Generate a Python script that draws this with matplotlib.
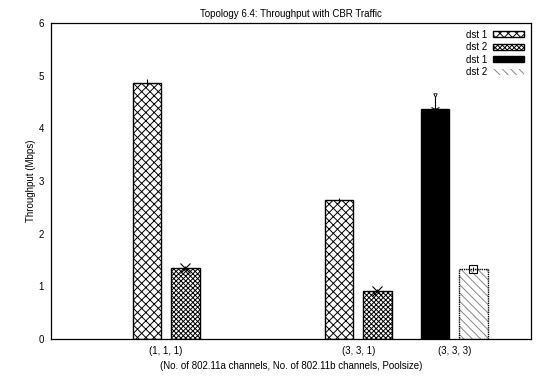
import numpy as np
from matplotlib import pyplot as plt

plt.rcParams['font.family'] = ['Liberation Sans', 'DejaVu Sans']
plt.rcParams['hatch.linewidth'] = 0.7

groups = ['(1, 1, 1)', '(3, 3, 1)', '(3, 3, 3)']
xpos = [1, 3, 4]

# first series: groups 1 and 2
a_x = [1, 3]
a_dst1 = [4.87, 2.63]
a_dst2 = [1.35, 0.92]
a_err1 = [0.07, 0.05]
a_err2 = [0.03, 0.03]

# second series: group 3
b_x = [4]
b_dst1 = [4.37]
b_dst2 = [1.33]
b_err1 = [0.27]
b_err2 = [0.04]

off = 0.2
w = 0.3

fig = plt.figure(figsize=(5.36, 3.77), dpi=100)
ax = fig.add_axes([0.0951, 0.1008, 0.8956, 0.8382])

ax.bar(np.array(a_x) - off, a_dst1, w, color='white', edgecolor='black', hatch='xxxx', lw=1, label='dst 1')
ax.bar(np.array(a_x) + off, a_dst2, w, color='white', edgecolor='black', hatch='xxxxxxx', lw=1, label='dst 2')
ax.bar(np.array(b_x) - off, b_dst1, w, color='black', edgecolor='black', lw=1, label='dst 1')
ax.bar(np.array(b_x) + off, b_dst2, w, color='white', edgecolor='#888888', hatch='\\\\\\\\', lw=0, label='dst 2')
ax.bar(np.array(b_x) + off, b_dst2, w, fill=False, edgecolor='black', lw=1, ls=(0, (1, 0.6)))

# error marks
ax.errorbar(np.array(a_x) - off, a_dst1, yerr=a_err1, fmt='none', ecolor='black', lw=0.8)
ax.errorbar(np.array(a_x) + off, a_dst2, yerr=a_err2, fmt='x', color='black', ms=7, mew=0.8, lw=0.8)
ax.errorbar(np.array(b_x) - off, b_dst1, yerr=[[0], b_err1], fmt='1', color='black', ms=7, mew=0.8, lw=0.8, ls=':', elinewidth=0.8)
ax.plot(np.array(b_x) - off, np.array(b_dst1) + np.array(b_err1), 'v', color='black', ms=2.5, mfc='white', mew=0.6)
ax.errorbar(np.array(b_x) + off, b_dst2, yerr=b_err2, fmt='s', color='black', mfc='none', ms=6, mew=0.8, lw=0.8)

ax.set_xlim(-0.2, 4.8)
ax.set_ylim(0, 6)
ax.set_xticks(xpos)
ax.set_xticklabels(groups)
ax.set_yticks(range(7))
ax.tick_params(length=0, labelsize=7, pad=5)
for s in ax.spines.values():
    s.set_linewidth(0.9)

ax.set_title('Topology 6.4: Throughput with CBR Traffic', fontsize=7, pad=4)
ax.set_ylabel('Throughput (Mbps)', fontsize=7, labelpad=2)
ax.set_xlabel('(No. of 802.11a channels, No. of 802.11b channels, Poolsize)', fontsize=7, labelpad=4)

leg = ax.legend(loc='upper right', frameon=False, markerfirst=False, fontsize=7,
                handlelength=3.2, handleheight=0.6, labelspacing=0.25, handletextpad=0.6,
                borderaxespad=0.3)

fig.savefig('out.png', dpi=100)
